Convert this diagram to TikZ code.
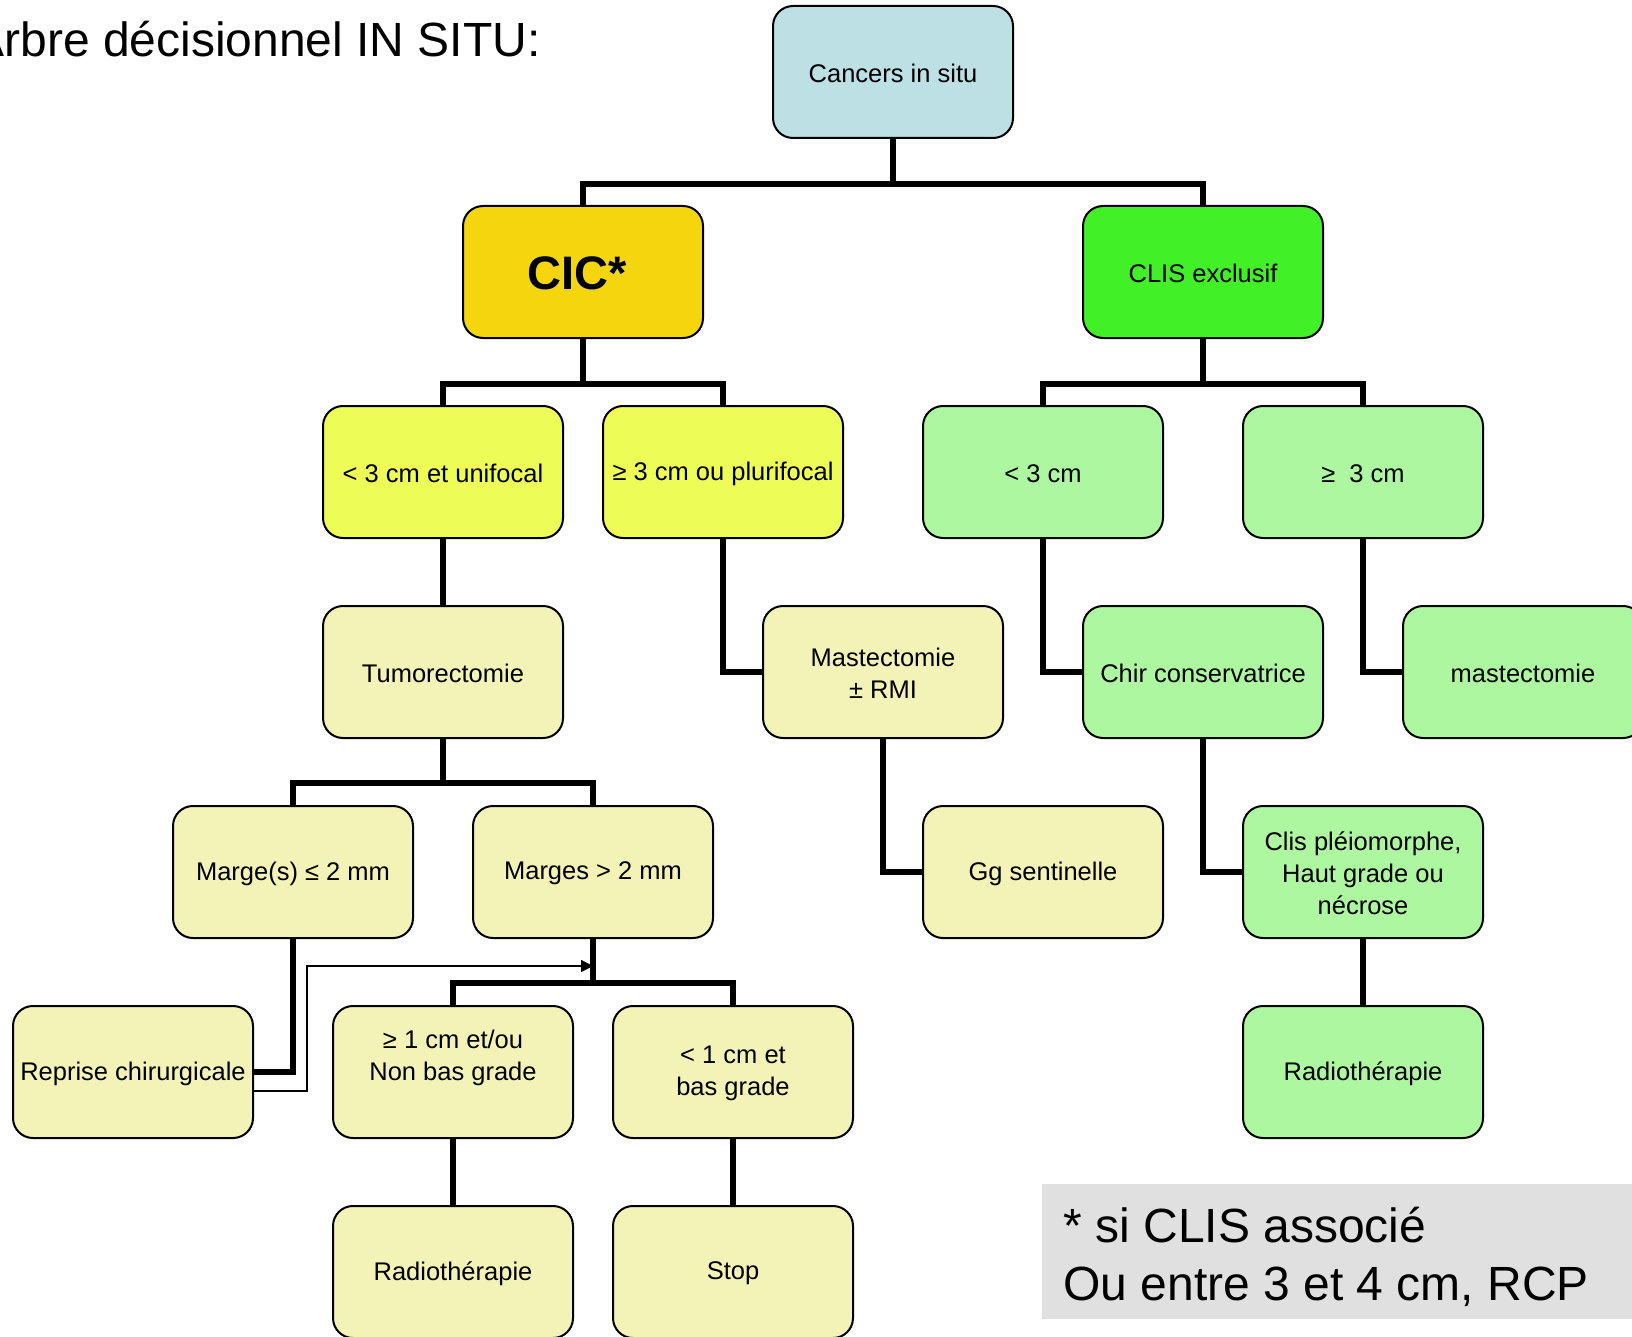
\documentclass[tikz,border=0pt]{standalone}
\usepackage{fontspec}
\setmainfont{Liberation Sans}
\usetikzlibrary{arrows.meta}
\definecolor{cblue}{RGB}{188,224,228}
\definecolor{cgold}{RGB}{245,214,14}
\definecolor{cgreen}{RGB}{66,240,40}
\definecolor{cyel}{RGB}{238,252,88}
\definecolor{cpale}{RGB}{243,243,183}
\definecolor{clgreen}{RGB}{173,247,160}
\definecolor{notegray}{RGB}{224,224,224}
\newcommand\txtdn[1]{\raisebox{-0.75pt}[\height][\depth]{#1}}
\tikzset{
  box/.style={draw=black, line width=1pt, rounded corners=10pt,
    minimum width=120pt, minimum height=66pt, align=center,
    font=\fontsize{12.75}{16}\selectfont},
  conn/.style={line width=2.6pt, draw=black},
  thinconn/.style={line width=0.85pt, draw=black, -{Triangle[length=6pt,width=6pt]}},
}
\begin{document}
\begin{tikzpicture}[x=0.5pt,y=-0.5pt]
\useasboundingbox (0,0) rectangle (1632,1337);
% title
\node[anchor=base east, inner sep=0, font=\fontsize{24}{28}\selectfont] (title) at (541,57) {Arbre décisionnel IN SITU:};
% note
\fill[notegray] (1042,1184) rectangle (1640,1319);
\node[anchor=base west, inner sep=0, font=\fontsize{24}{28}\selectfont] (note1) at (1063,1242) {* si CLIS associé};
\node[anchor=base west, inner sep=0, font=\fontsize{24}{28}\selectfont] (note2) at (1063,1300) {Ou entre 3 et 4 cm, RCP};
% nodes
\node[box, fill=cblue] (cancers) at (893,72) {\txtdn{Cancers in situ}};
\node[box, fill=cgold, font=\fontsize{23.5}{26}\selectfont\bfseries] (cic) at (583,272) {\txtdn{CIC*}\hspace*{6pt}};
\node[box, fill=cgreen] (clis) at (1203,272) {\txtdn{CLIS exclusif}};
\node[box, fill=cyel] (unif) at (443,472) {\txtdn{< 3 cm et unifocal}};
\node[box, fill=cyel] (pluri) at (723,472) {\txtdn{≥ 3 cm ou plurifocal}};
\node[box, fill=clgreen] (lt3) at (1043,472) {\txtdn{< 3 cm}};
\node[box, fill=clgreen] (ge3) at (1363,472) {\txtdn{≥\ \ 3 cm}};
\node[box, fill=cpale] (tumor) at (443,672) {\txtdn{Tumorectomie}};
\node[box, fill=cpale] (mast) at (883,672) {\txtdn{Mastectomie}\\\txtdn{± RMI}};
\node[box, fill=clgreen] (chir) at (1203,672) {\txtdn{Chir conservatrice}};
\node[box, fill=clgreen] (mastecto) at (1523,672) {\txtdn{mastectomie}};
\node[box, fill=cpale] (marge) at (293,872) {\txtdn{Marge(s) ≤ 2 mm}};
\node[box, fill=cpale] (marges) at (593,872) {\txtdn{Marges > 2 mm}};
\node[box, fill=cpale] (gg) at (1043,872) {\txtdn{Gg sentinelle}};
\node[box, fill=clgreen] (clisp) at (1363,872) {\txtdn{Clis pléiomorphe,}\\\txtdn{Haut grade ou}\\\txtdn{nécrose}};
\node[box, fill=cpale] (reprise) at (133,1072) {\txtdn{Reprise chirurgicale}};
\node[box, fill=cpale] (ge1) at (453,1072) {\txtdn{≥ 1 cm et/ou}\\\txtdn{Non bas grade}\\\rule[-1.8pt]{0pt}{1.8pt}};
\node[box, fill=cpale] (lt1) at (733,1072) {\txtdn{< 1 cm et}\\\txtdn{bas grade}};
\node[box, fill=clgreen] (radR) at (1363,1072) {\txtdn{Radiothérapie}};
\node[box, fill=cpale] (radL) at (453,1272) {\txtdn{Radiothérapie}};
\node[box, fill=cpale] (stop) at (733,1272) {\txtdn{Stop}};
% bus coordinates
\coordinate (b1) at (0,184);
\coordinate (b2) at (0,384);
\coordinate (b3) at (0,783);
\coordinate (b4) at (0,983);
\coordinate (t1) at (307,966);
% connectors
\draw[conn] (cancers.south) -- (cancers.south |- b1);
\draw[conn] (cic.north) -- (cic.north |- b1) -- (clis.north |- b1) -- (clis.north);
\draw[conn] (cic.south) -- (cic.south |- b2);
\draw[conn] (unif.north) -- (unif.north |- b2) -- (pluri.north |- b2) -- (pluri.north);
\draw[conn] (clis.south) -- (clis.south |- b2);
\draw[conn] (lt3.north) -- (lt3.north |- b2) -- (ge3.north |- b2) -- (ge3.north);
\draw[conn] (unif) -- (tumor);
\draw[conn] (pluri.south) |- (mast.west);
\draw[conn] (lt3.south) |- (chir.west);
\draw[conn] (ge3.south) |- (mastecto.west);
\draw[conn] (tumor.south) -- (tumor.south |- b3);
\draw[conn] (marge.north) -- (marge.north |- b3) -- (marges.north |- b3) -- (marges.north);
\draw[conn] (mast.south) |- (gg.west);
\draw[conn] (chir.south) |- (clisp.west);
\draw[conn] (clisp) -- (radR);
\draw[conn] (marge.south) |- (reprise.east);
\draw[thinconn] ([yshift=-9.5pt]reprise.east) -| (t1) -- (t1 -| marges.south);
\draw[conn] (marges.south) -- (marges.south |- b4);
\draw[conn] (ge1.north) -- (ge1.north |- b4) -- (lt1.north |- b4) -- (lt1.north);
\draw[conn] (ge1) -- (radL);
\draw[conn] (lt1) -- (stop);
\end{tikzpicture}
\end{document}
